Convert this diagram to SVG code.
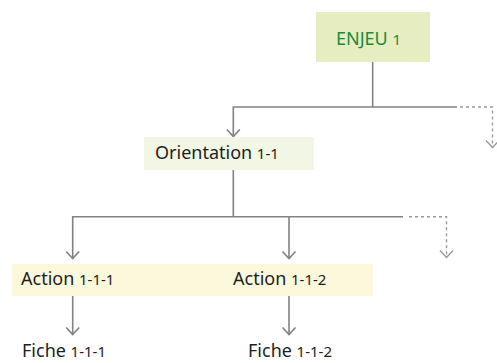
<svg xmlns="http://www.w3.org/2000/svg" width="497" height="363" viewBox="0 0 497 363">
<style>
.ln{stroke:#828282;stroke-width:1.6;fill:none}
.dt{stroke:#9a9a9a;stroke-width:1.4;fill:none;stroke-dasharray:3 3}
.t{font-family:"Noto Sans","Open Sans",sans-serif;font-size:18px;fill:#1e1e1e}
.n{font-size:15px}
</style>
<defs>
<marker id="ah" markerUnits="userSpaceOnUse" markerWidth="16" markerHeight="16" viewBox="-8 -8 16 16" refX="0" refY="0" orient="auto">
<path d="M-7.5,-6.5 L-0.5,0 L-7.5,6.5" stroke="#828282" stroke-width="1.6" fill="none"/>
</marker>
<marker id="ahd" markerUnits="userSpaceOnUse" markerWidth="16" markerHeight="16" viewBox="-8 -8 16 16" refX="0" refY="0" orient="auto">
<path d="M-7.5,-6.5 L-0.5,0 L-7.5,6.5" stroke="#9a9a9a" stroke-width="1.4" fill="none"/>
</marker>
</defs>
<g id="connectors">
<path class="ln" d="M372.7,62 V107"/>
<path class="ln" d="M457,107 H233.3 V137" marker-end="url(#ah)"/>
<path class="dt" d="M460,107 H492.5 V148" marker-end="url(#ahd)"/>
<path class="ln" d="M233.3,170 V216.7"/>
<path class="ln" d="M403,216.7 H72.7 V259" marker-end="url(#ah)"/>
<path class="ln" d="M289,216.7 V259" marker-end="url(#ah)"/>
<path class="dt" d="M409,216.7 H446.5 V258" marker-end="url(#ahd)"/>
<path class="ln" d="M72.7,296 V335" marker-end="url(#ah)"/>
<path class="ln" d="M289,296 V335" marker-end="url(#ah)"/>
</g>
<g id="enjeu1">
<rect x="316" y="12" width="114" height="50" fill="#e5edc1"/>
<text class="t" x="336" y="45" style="fill:#1c8a3c">ENJEU <tspan class="n">1</tspan></text>
</g>
<g id="orientation1-1">
<rect x="144" y="137" width="170" height="33" fill="#f2f6e4"/>
<text class="t" x="155" y="159">Orientation <tspan class="n">1-1</tspan></text>
</g>
<g id="action1-1-1">
<rect x="12" y="264" width="211" height="32" fill="#fcf8dc"/>
<text class="t" x="21" y="285">Action <tspan class="n">1-1-1</tspan></text>
</g>
<g id="action1-1-2">
<rect x="223" y="264" width="150" height="32" fill="#fcf8dc"/>
<text class="t" x="233" y="285">Action <tspan class="n">1-1-2</tspan></text>
</g>
<g id="fiche1-1-1">
<text class="t" x="22" y="357">Fiche <tspan class="n">1-1-1</tspan></text>
</g>
<g id="fiche1-1-2">
<text class="t" x="248" y="357">Fiche <tspan class="n">1-1-2</tspan></text>
</g>
</svg>
